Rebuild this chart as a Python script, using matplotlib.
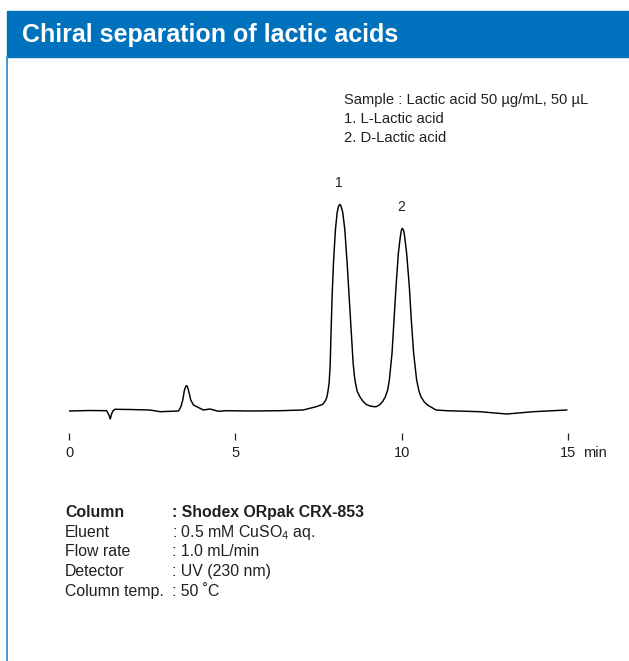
import matplotlib
matplotlib.use('Agg')
import matplotlib.pyplot as plt
from matplotlib.patches import Rectangle
from matplotlib.lines import Line2D

plt.rcParams['font.family'] = ['Liberation Sans', 'DejaVu Sans']
plt.rcParams['mathtext.fontset'] = 'custom'
plt.rcParams['mathtext.rm'] = 'Liberation Sans'
plt.rcParams['mathtext.default'] = 'regular'

W, H = 629, 661
BLUE = '#0071bc'
INK = '#231f20'

# chromatogram trace (time in min, detector signal in a.u.)
time_min = [0.00, 0.63, 1.13, 1.20, 1.24, 1.28, 1.32, 1.38, 1.83, 2.43, 2.74, 3.29,
            3.36, 3.42, 3.47, 3.51, 3.53, 3.56, 3.59, 3.66, 3.74, 3.89, 4.04, 4.24,
            4.49, 4.74, 5.44, 6.34, 7.04, 7.43, 7.63, 7.72, 7.76, 7.79, 7.82, 7.85,
            7.88, 7.91, 7.95, 8.01, 8.06, 8.10, 8.14, 8.18, 8.23, 8.29, 8.36, 8.42,
            8.48, 8.54, 8.58, 8.61, 8.66, 8.73, 8.83, 8.93, 9.05, 9.18, 9.23, 9.33,
            9.43, 9.51, 9.58, 9.63, 9.71, 9.77, 9.83, 9.90, 9.96, 9.99, 10.02, 10.06,
            10.09, 10.15, 10.23, 10.29, 10.36, 10.45, 10.52, 10.58, 10.68, 10.78,
            11.03, 11.35, 12.35, 13.16, 13.96, 14.96]
signal = [0.0, 0.5, 0.3, -4.0, -8.0, -3.0, 0.0, 1.7, 1.5, 1.0, -0.7, 0.0,
          4.0, 11.0, 21.0, 24.5, 25.3, 24.5, 21.0, 11.0, 6.0, 3.5, 1.0, 2.0,
          -0.3, 0.3, 0.0, 0.3, 1.0, 4.3, 6.7, 11.0, 15.0, 21.0, 28.3, 45.0,
          81.7, 115.0, 148.3, 181.7, 198.3, 204.5, 206.7, 204.5, 198.3, 181.7, 148.3, 115.0,
          81.7, 48.3, 35.0, 28.3, 20.0, 15.0, 10.0, 6.7, 5.0, 4.3, 4.3, 6.0,
          9.5, 14.3, 21.0, 31.0, 57.7, 91.0, 124.3, 157.7, 174.3, 180.5, 182.7, 180.5,
          174.3, 157.7, 124.3, 91.0, 57.7, 31.0, 20.0, 14.3, 9.0, 6.0,
          1.0, 0.3, -0.7, -3.0, -0.7, 1.0]

peak_labels = ['1', '2']
peak_times = [8.14, 10.02]
peak_heights = [206.7, 182.7]

tick_pos = [0, 5, 10, 15]
tick_labels = ['0', '5', '10', '15']

sample_lines = ['Sample : Lactic acid 50 µg/mL, 50 µL',
                '1. L-Lactic acid',
                '2. D-Lactic acid']

cond_names = ['Column', 'Eluent', 'Flow rate', 'Detector', 'Column temp.']
cond_values = [': Shodex ORpak CRX-853', ': 0.5 mM CuSO$_4$ aq.',
               ': 1.0 mL/min', ': UV (230 nm)', ': 50 ˚C']


def fx(px):
    return px / W


def fy(py):
    return 1 - py / H


fig = plt.figure(figsize=(W / 100, H / 100), dpi=100)
fig.patch.set_facecolor('white')

# header bar and left border
fig.patches.append(Rectangle((fx(7), fy(56.5)), 1 - fx(7), (56.5 - 10.7) / H,
                             transform=fig.transFigure, color=BLUE, zorder=0))
fig.lines.append(Line2D([fx(7.2), fx(7.2)], [fy(56.5), 0], transform=fig.transFigure,
                        color='#3d8fd1', lw=1.3))
fig.text(fx(22), fy(41.7), 'Chiral separation of lactic acids', color='white',
         fontsize=18, fontweight='bold', va='baseline', ha='left')

# chromatogram axes: t 0..15 -> px 69..568, signal 0 -> py 411
ax = fig.add_axes([fx(69), fy(433), (568 - 69) / W, (433 - 180) / H])
ax.plot(time_min, signal, color='black', lw=1.05, solid_joinstyle='round')
ax.set_xlim(0, 15)
ax.set_ylim(-22, 231)
for s in ax.spines.values():
    s.set_visible(False)
ax.set_yticks([])
ax.set_xticks(tick_pos)
ax.set_xticklabels(tick_labels)
ax.tick_params(axis='x', direction='out', length=5.2, width=0.9, color=INK,
               labelsize=10.5, labelcolor=INK, pad=4)
fig.text(fx(583), fy(457), 'min', fontsize=10.5, color=INK, ha='left', va='baseline')
for lab, t, h in zip(peak_labels, peak_times, peak_heights):
    ax.annotate(lab, (t, h), xytext=(-1, 15.5), textcoords='offset points',
                ha='center', va='center', fontsize=10, color=INK)

# sample description
for i, line in enumerate(sample_lines):
    fig.text(fx(344), fy(104 + 19.2 * i), line, fontsize=10.6, color=INK,
             ha='left', va='baseline')

# conditions
for i, (name, val) in enumerate(zip(cond_names, cond_values)):
    bold = 'bold' if i == 0 else 'normal'
    y = fy(517 + 19.75 * i)
    fig.text(fx(65), y, name, fontsize=11.4, color=INK, fontweight=bold,
             ha='left', va='baseline')
    fig.text(fx(172), y, val, fontsize=11.4, color=INK, fontweight=bold,
             ha='left', va='baseline')

fig.savefig('out.png', dpi=100, facecolor='white')
